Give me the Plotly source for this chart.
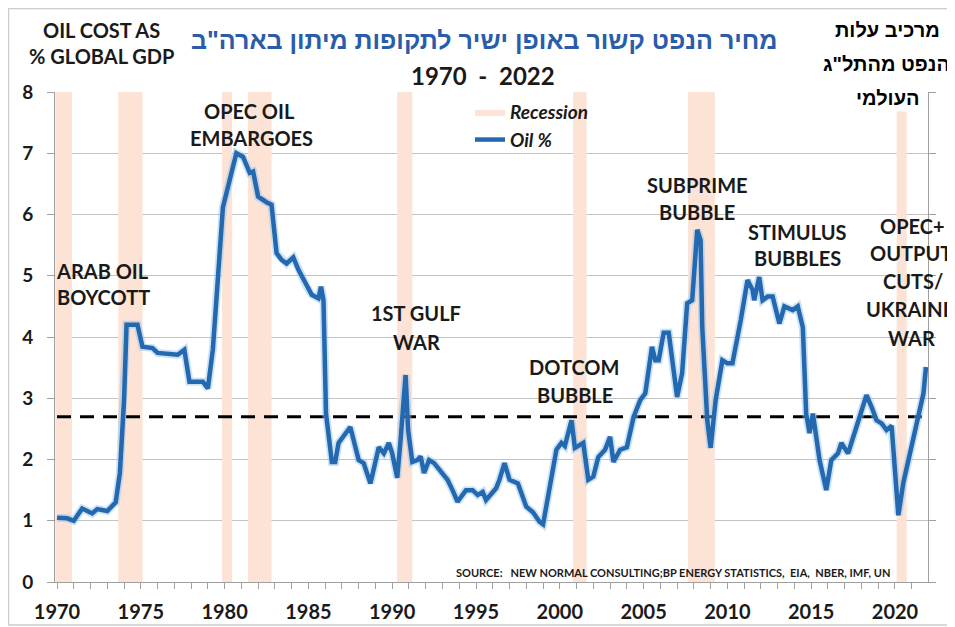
import plotly.graph_objects as go

# ---------------- data ----------------
YEARS = [1970.0, 1970.6, 1971.0, 1971.5, 1972.1, 1972.4, 1973.0, 1973.5, 1973.75, 1974.0,
         1974.15, 1974.8, 1975.1, 1975.7, 1976.0, 1977.2, 1977.6, 1977.9, 1978.7, 1979.0,
         1979.3, 1979.5, 1979.9, 1980.2, 1980.7, 1981.1, 1981.5, 1981.7, 1982.0, 1982.5,
         1982.8, 1983.1, 1983.4, 1983.7, 1984.1, 1984.4, 1984.9, 1985.2, 1985.6, 1985.75,
         1985.9, 1986.05, 1986.4, 1986.6, 1986.8, 1987.5, 1988.0, 1988.3, 1988.7, 1989.2,
         1989.5, 1989.8, 1990.0, 1990.3, 1990.5, 1990.8, 1990.95, 1991.2, 1991.5, 1991.7,
         1991.9, 1992.2, 1992.5, 1993.0, 1993.3, 1993.6, 1993.9, 1994.4, 1994.8, 1995.1,
         1995.4, 1995.6, 1996.2, 1996.4, 1996.7, 1997.0, 1997.5, 1998.0, 1998.4, 1998.8,
         1999.0, 1999.4, 1999.8, 2000.1, 2000.3, 2000.7, 2000.9, 2001.4, 2001.7, 2002.0,
         2002.3, 2002.7, 2003.0, 2003.2, 2003.6, 2004.0, 2004.4, 2004.8, 2005.1, 2005.5,
         2005.7, 2005.9, 2006.2, 2006.5, 2007.0, 2007.3, 2007.6, 2007.9, 2008.2, 2008.4,
         2008.5, 2008.8, 2009.0, 2009.3, 2009.7, 2010.0, 2010.3, 2010.8, 2011.2, 2011.5,
         2011.6, 2011.9, 2012.1, 2012.4, 2012.7, 2013.1, 2013.4, 2013.9, 2014.2, 2014.5,
         2014.7, 2014.9, 2015.1, 2015.5, 2015.9, 2016.2, 2016.6, 2016.8, 2017.2, 2017.7,
         2018.3, 2018.6, 2018.9, 2019.2, 2019.5, 2019.8, 2020.0, 2020.2, 2020.5, 2020.9,
         2021.4, 2021.7, 2021.85]
OIL_PCT = [1.05, 1.04, 1.00, 1.20, 1.12, 1.19, 1.16, 1.30, 1.78, 2.97,
           4.20, 4.20, 3.84, 3.82, 3.74, 3.71, 3.79, 3.27, 3.27, 3.16,
           3.80, 4.60, 6.12, 6.45, 7.00, 6.94, 6.68, 6.70, 6.29, 6.20,
           6.16, 5.37, 5.26, 5.20, 5.30, 5.10, 4.82, 4.69, 4.63, 4.82,
           4.60, 2.75, 1.96, 1.96, 2.27, 2.53, 1.99, 1.94, 1.61, 2.20,
           2.10, 2.27, 2.10, 1.70, 2.32, 3.38, 2.48, 1.96, 1.99, 2.05,
           1.78, 1.99, 1.94, 1.78, 1.67, 1.50, 1.31, 1.50, 1.50, 1.42,
           1.47, 1.34, 1.53, 1.67, 1.94, 1.67, 1.61, 1.23, 1.14, 0.98,
           0.94, 1.55, 2.16, 2.27, 2.22, 2.64, 2.19, 2.27, 1.67, 1.72,
           2.04, 2.16, 2.37, 1.96, 2.16, 2.20, 2.69, 2.97, 3.08, 3.84,
           3.62, 3.62, 4.07, 4.07, 3.02, 3.41, 4.55, 4.60, 5.75, 5.58,
           4.16, 2.64, 2.19, 2.97, 3.62, 3.57, 3.57, 4.28, 4.93, 4.77,
           4.60, 4.98, 4.60, 4.66, 4.66, 4.22, 4.50, 4.44, 4.50, 4.16,
           2.75, 2.43, 2.75, 1.99, 1.50, 1.99, 2.10, 2.27, 2.10, 2.53,
           3.05, 2.86, 2.64, 2.59, 2.48, 2.55, 1.72, 1.09, 1.62, 2.10,
           2.64, 3.08, 3.51]
AVERAGE = 2.7

REC_START = [1969.9, 1973.65, 1979.85, 1981.4, 1990.3, 2000.8, 2007.65, 2020.1]
REC_END = [1970.9, 1975.1, 1980.45, 1982.8, 1991.2, 2001.6, 2009.25, 2020.7]

EVENT_LABELS = [
    ("ARAB OIL", 1972.7, 5.08), ("BOYCOTT", 1972.75, 4.65),
    ("OPEC OIL", 1981.5, 7.69), ("EMBARGOES", 1981.6, 7.25),
    ("1ST GULF", 1991.4, 4.39), ("WAR", 1991.45, 3.92),
    ("DOTCOM", 2000.85, 3.51), ("BUBBLE", 2000.9, 3.05),
    ("SUBPRIME", 2008.2, 6.48), ("BUBBLE", 2008.2, 6.04),
    ("STIMULUS", 2014.15, 5.71), ("BUBBLES", 2014.2, 5.29),
    ("OPEC+", 2021.05, 5.81), ("OUTPUT", 2020.95, 5.37), ("CUTS/", 2021.05, 4.91),
    ("UKRAINE", 2020.9, 4.46), ("WAR", 2021.0, 3.98),
]

X_TICKS = [1970, 1975, 1980, 1985, 1990, 1995, 2000, 2005, 2010, 2015, 2020]
Y_TICKS = [0, 1, 2, 3, 4, 5, 6, 7, 8]

TITLE_HE = 'מחיר הנפט קשור באופן ישיר לתקופות מיתון בארה"ב'
SUBTITLE = "1970  -  2022"
SIDE_HE = ["מרכיב עלות", 'הנפט מהתל"ג', "העולמי"]
Y_TITLE = ["OIL COST AS", "% GLOBAL GDP"]
SOURCE = "SOURCE:   NEW NORMAL CONSULTING;BP ENERGY STATISTICS,  EIA,  NBER, IMF, UN"

# ---------------- styling ----------------
OFF = 8                      # the page's own body margin
FW, FH = 955 - OFF, 627 - OFF
L, R, T, B = 55, 928, 92, 582  # plot area in window pixels
W, H = R - L, B - T
LAT = "Lato, 'Open Sans', sans-serif"
HEB = "'Liberation Sans', 'DejaVu Sans', Arial, sans-serif"
BLUE = "#2468b0"
HALO = "rgba(140,190,235,0.45)"
BAND = "#fce3d5"
GRID = "#c4c4c4"
AXC = "#a0a0a0"
TXT = "#1a1a1a"


def pxx(p):
    return (p - L) / W


def pxy(p):
    return (B - p) / H


fig = go.Figure()

bx, by = [], []
for s, e in zip(REC_START, REC_END):
    bx += [s, s, e, e, s, None]
    by += [Y_TICKS[0], Y_TICKS[-1], Y_TICKS[-1], Y_TICKS[0], Y_TICKS[0], None]
fig.add_trace(go.Scatter(x=bx, y=by, mode="lines", fill="toself", fillcolor=BAND,
                         line=dict(width=0, color=BAND), name="Recession",
                         hoverinfo="skip", legendgroup="a"))

fig.add_trace(go.Scatter(x=[YEARS[0], YEARS[-1]], y=[AVERAGE, AVERAGE], mode="lines",
                         line=dict(color="black", width=3, dash="14px,9px"),
                         showlegend=False, hoverinfo="skip"))

# soft glow under the oil line, then the line itself
fig.add_trace(go.Scatter(x=YEARS, y=OIL_PCT, mode="lines", line=dict(color=HALO, width=8),
                         showlegend=False, hoverinfo="skip"))
fig.add_trace(go.Scatter(x=YEARS, y=OIL_PCT, mode="lines", name="Oil %",
                         line=dict(color=BLUE, width=4.5), legendgroup="b"))

ann = []
for txt, x, y in EVENT_LABELS:
    ann.append(dict(x=x, y=y, xref="x", yref="y", text=txt, showarrow=False,
                    font=dict(family=LAT, size=20, color=TXT, weight="bold"),
                    xanchor="center", yanchor="middle"))


def paper_text(txt, xp, yp, size, family=LAT, color=TXT, **kw):
    d = dict(x=pxx(xp), y=pxy(yp), xref="paper", yref="paper", text=txt,
             showarrow=False, xanchor="center", yanchor="middle",
             font=dict(family=family, size=size, color=color, weight="bold"))
    d.update(kw)
    ann.append(d)


paper_text(Y_TITLE[0], 101, 30, 20)
paper_text(Y_TITLE[1], 101, 56, 20)
paper_text("<b>" + TITLE_HE + "</b>", 484, 40, 25, family=HEB, color="#2a5caa")
paper_text(SUBTITLE, 483, 75, 24)
for txt, xp, yp in zip(SIDE_HE, [887, 886, 888], [30, 64, 98]):
    paper_text("<b>" + txt + "</b>", xp, yp, 20, family=HEB, color="#000000",
               bgcolor="white", borderpad=2)
paper_text(SOURCE, 892, 572, 11, xanchor="right")

shapes = [
    dict(type="rect", xref="paper", yref="paper", x0=pxx(8.5), x1=pxx(975),
         y0=pxy(625), y1=pxy(8.5), line=dict(color="#cccccc", width=1.5), layer="below"),
]

fig.update_layout(
    width=FW, height=FH,
    margin=dict(l=L - OFF, r=FW - (R - OFF), t=T - OFF, b=FH - (B - OFF), pad=0,
                autoexpand=False),
    paper_bgcolor="white", plot_bgcolor="white",
    font=dict(family=LAT, color=TXT),
    showlegend=True,
    legend=dict(x=pxx(470), y=pxy(93), xanchor="left", yanchor="top",
                bgcolor="rgba(0,0,0,0)", borderwidth=0, itemwidth=30,
                tracegroupgap=7, traceorder="normal",
                font=dict(family=LAT, size=19, color=TXT, style="italic", weight="bold")),
    annotations=ann,
    shapes=shapes,
    xaxis=dict(range=[1969.88, 2021.97], tickmode="array", tickvals=X_TICKS,
               ticktext=[str(v) for v in X_TICKS], automargin=False,
               ticks="outside", ticklen=6, tickcolor=AXC, tickwidth=1,
               showline=True, linecolor=AXC, linewidth=1, showgrid=False, zeroline=False,
               minor=dict(dtick=1, tick0=1970, ticks="outside", ticklen=6, tickcolor=AXC,
                          showgrid=False),
               tickfont=dict(family=LAT, size=20, color=TXT, weight="bold"),
               ticklabelstandoff=6),
    yaxis=dict(range=[0, 8], tickvals=Y_TICKS, ticks="outside", ticklen=7, tickcolor=AXC,
               showline=True, linecolor=AXC, linewidth=1, mirror="ticks", automargin=False,
               showgrid=True, gridcolor=GRID, gridwidth=1, zeroline=False,
               tickfont=dict(family=LAT, size=19, color=TXT, weight="bold"),
               ticklabelstandoff=10),
)

fig.write_html("out.html")
